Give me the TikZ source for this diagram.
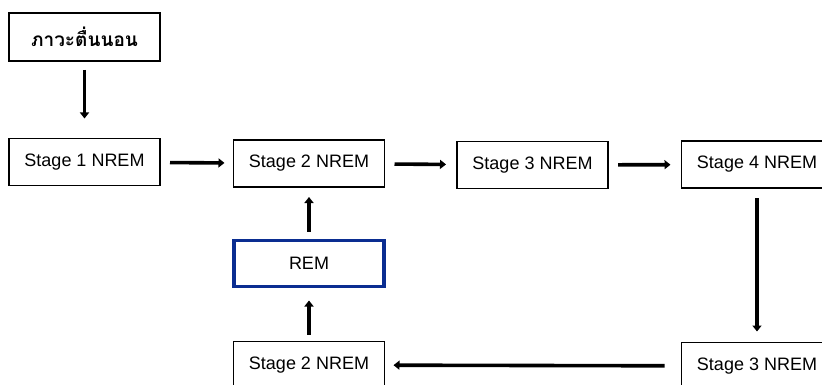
\documentclass[tikz,border=0pt]{standalone}
\usepackage{fontspec}
\setmainfont{Liberation Sans}
\newfontfamily\thaifont[Script=Thai]{Loma}
\usepackage{tikz}
\usetikzlibrary{arrows.meta}
\definecolor{remblue}{RGB}{10,45,145}

\begin{document}
\begin{tikzpicture}[x=1pt, y=-1pt,
  every node/.style={draw, line width=1.2pt, minimum width=151pt, minimum height=47pt, outer sep=0pt, font=\fontsize{18}{20}\selectfont},
  flow/.style={line width=3.6pt, -{Triangle[length=6pt,width=9pt]}}]
\useasboundingbox (0,0) rectangle (822,385);

\node (wake) at (84.5,37) [minimum height=48pt] {\thaifont\bfseries\fontsize{19}{21}\selectfont ภาวะตื่นนอน};
\node (s1) at (84.5,162) {Stage 1 NREM};
\node (s2a) at (309,163.5) {Stage 2 NREM};
\node (s3a) at (532.5,165) {Stage 3 NREM};
\node (s4) at (757,164.5) {Stage 4 NREM};
\node (rem) at (309,263.5) [draw=remblue, line width=3.5pt, minimum width=150pt, minimum height=46pt] {REM};
\node (s2b) at (309,365) {Stage 2 NREM};
\node (s3b) at (757,366) {Stage 3 NREM};

\draw[flow, shorten <=9pt, shorten >=20pt] (wake) -- (s1);
\draw[flow, shorten <=10pt, shorten >=9pt] (s1) -- (s2a);
\draw[flow, shorten <=10pt, shorten >=11pt] (s2a) -- (s3a);
\draw[flow, shorten <=10pt, shorten >=11pt] (s3a) -- (s4);
\draw[flow, shorten <=10pt, shorten >=11pt] (s4) -- (s3b);
\draw[flow, shorten <=17pt, shorten >=9pt] (s3b) -- (s2b);
\draw[flow, shorten <=7pt, shorten >=14pt] (s2b) -- (rem);
\draw[flow, shorten <=9pt, shorten >=10pt] (rem) -- (s2a);
\end{tikzpicture}
\end{document}
